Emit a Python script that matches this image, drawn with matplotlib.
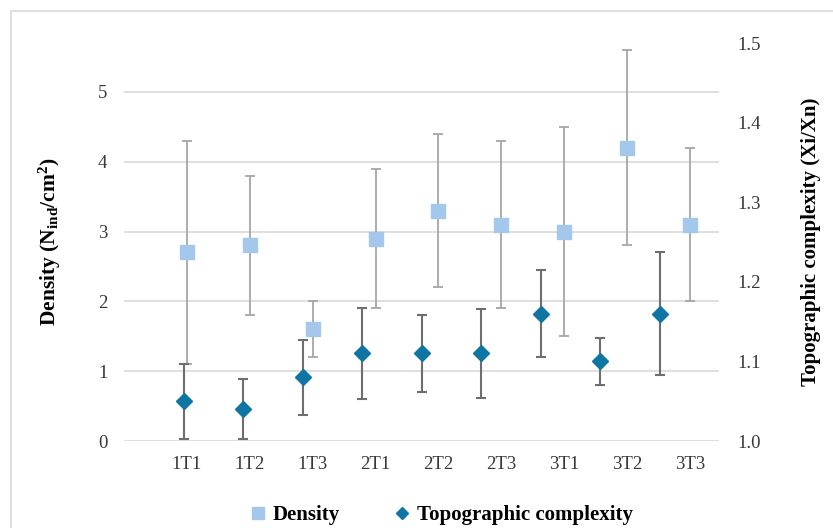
import numpy as np
import matplotlib
matplotlib.use('Agg')
import matplotlib.pyplot as plt
from matplotlib.lines import Line2D
from matplotlib.patches import Rectangle

plt.rcParams['font.family'] = 'Liberation Serif'
plt.rcParams['mathtext.default'] = 'regular'

sites = ['1T1', '1T2', '1T3', '2T1', '2T2', '2T3', '3T1', '3T2', '3T3']
density = [2.7, 2.8, 1.6, 2.9, 3.3, 3.1, 3.0, 4.2, 3.1]
density_err = [1.6, 1.0, 0.4, 1.0, 1.1, 1.2, 1.5, 1.4, 1.1]
topo = [1.05, 1.04, 1.08, 1.11, 1.11, 1.11, 1.16, 1.10, 1.16]
topo_err = [0.047, 0.038, 0.047, 0.057, 0.048, 0.056, 0.055, 0.030, 0.077]

sq_col = '#A3C8EC'
dm_col = '#0F76A3'
grid_col = '#D9D9D9'

fig = plt.figure(figsize=(8.33, 5.28), dpi=100)
fig.patches.append(Rectangle((11 / 833, -0.01), 1.0, 1 - 11 / 528 + 0.01,
                             transform=fig.transFigure, fill=False,
                             edgecolor=grid_col, lw=1.2))

pos = [124 / 833, 1 - 441 / 528, (719 - 124) / 833, (441 - 43) / 528]
ax = fig.add_axes(pos)
x = np.arange(1, len(sites) + 1)

ax.errorbar(x, density, yerr=density_err, fmt='s', color=sq_col, ms=9.5,
            ecolor='#A6A6A6', elinewidth=1.3, capsize=3.5, capthick=1.3, zorder=3)
ax.set_xlim(0, 9.46)
ax.set_ylim(0, 5.7)
ax.set_yticks(range(0, 6))
ax.yaxis.grid(True, color=grid_col, lw=1.2)
ax.set_axisbelow(True)
ax.set_xticks(x)
ax.set_xticklabels(sites)
for s in ax.spines.values():
    s.set_visible(False)
ax.tick_params(length=0, labelsize=13.5, colors='#383838')
ax.tick_params(axis='y', pad=12)
ax.tick_params(axis='x', pad=11)
ax.set_ylabel('Density (N$_{ind}$/cm$^{2}$)', fontsize=15.5, fontweight='bold',
              labelpad=25)

ax2 = fig.add_axes(pos, frameon=False)
ax2.errorbar(x, topo, yerr=topo_err, fmt='D', color=dm_col, ms=8.5,
             ecolor='#6E6E6E', elinewidth=1.5, capsize=3.5, capthick=1.5, zorder=3)
ax2.set_xlim(0, 10)
ax2.set_ylim(1.0, 1.5)
ax2.set_yticks([1.0, 1.1, 1.2, 1.3, 1.4, 1.5])
ax2.set_xticks([])
ax2.yaxis.tick_right()
ax2.yaxis.set_label_position('right')
ax2.tick_params(length=0, labelsize=13.5, colors='#383838', pad=13)
ax2.set_ylabel('Topographic complexity (Xi/Xn)', fontsize=15, fontweight='bold',
               labelpad=29)

handles = [Line2D([], [], marker='s', color=sq_col, ls='none', ms=8),
           Line2D([], [], marker='D', color=dm_col, ls='none', ms=6)]
fig.legend(handles, ['Density', 'Topographic complexity'], loc='center',
           bbox_to_anchor=(440 / 833, 1 - 515 / 528), ncol=2, frameon=False,
           prop={'size': 15, 'weight': 'bold'}, handletextpad=0.2,
           columnspacing=2.5, handlelength=1.0)

fig.savefig('out.png', dpi=100)
